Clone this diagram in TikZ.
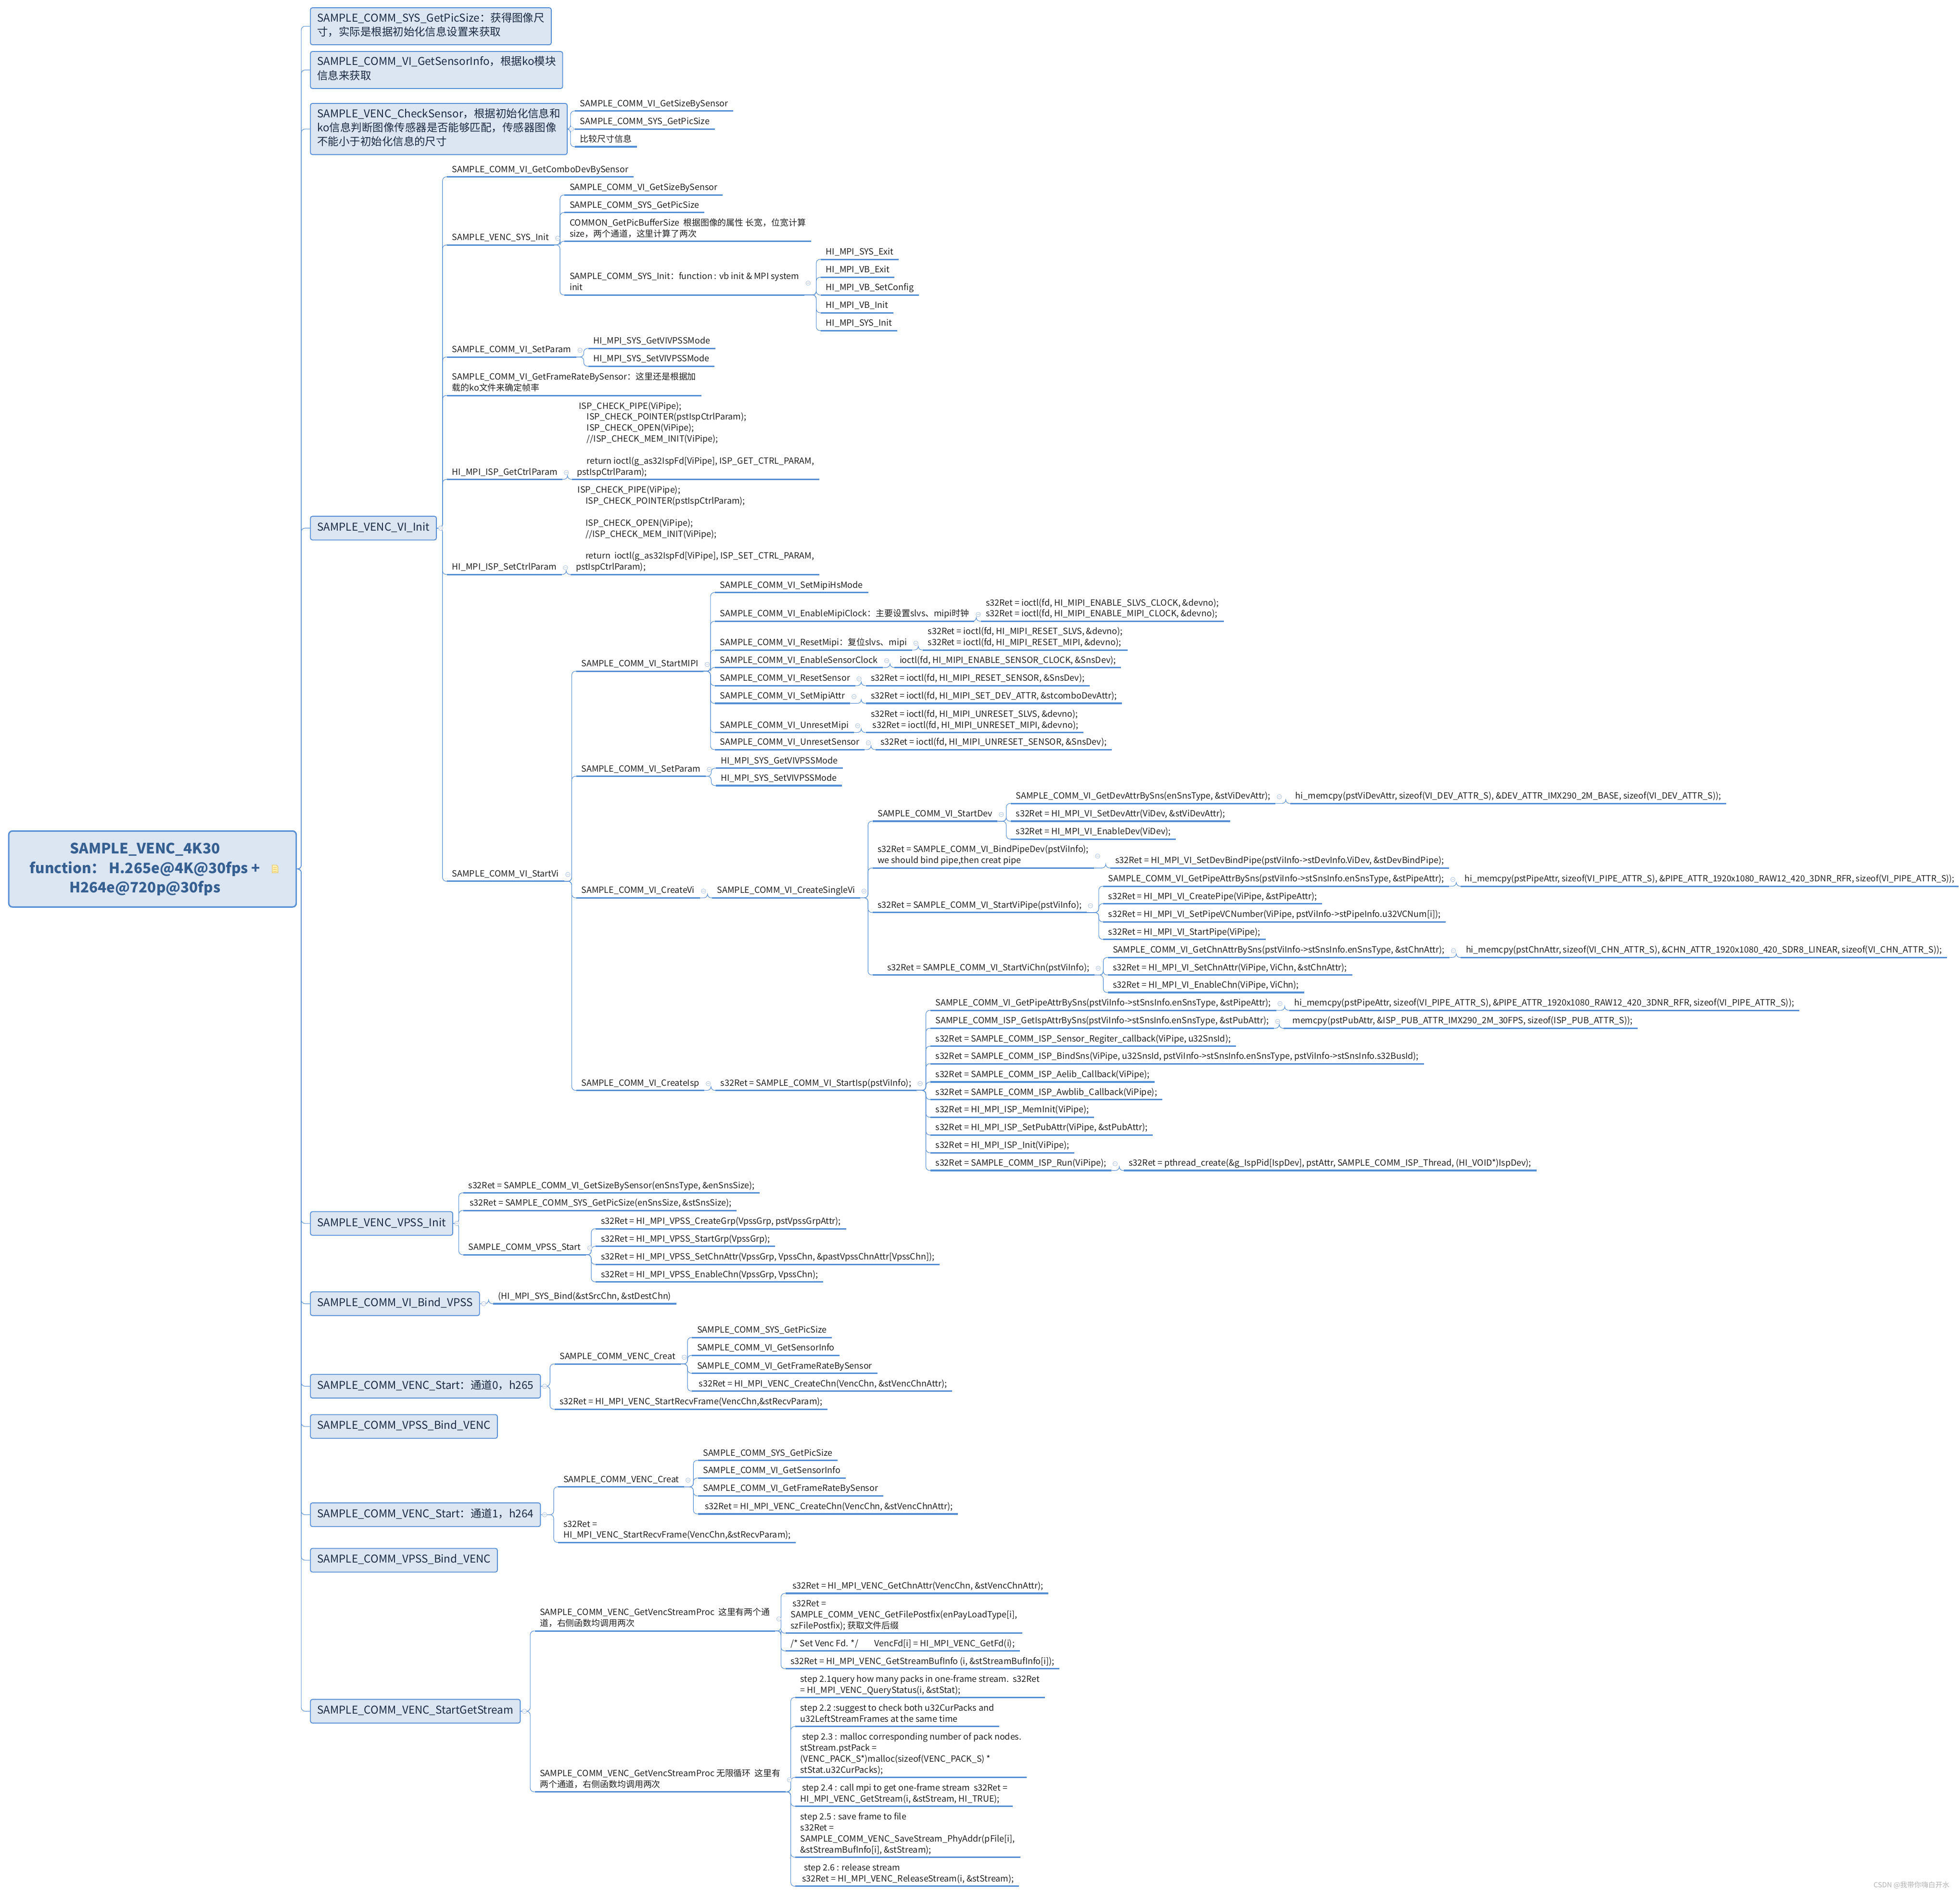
\documentclass[tikz,border=0pt]{standalone}
\usepackage{fontspec}
\setmainfont{Noto Sans CJK SC}
\definecolor{mapblue}{HTML}{558ED5}
\definecolor{boxfill}{HTML}{DCE6F2}
\definecolor{boxtext}{HTML}{1B2A41}
\definecolor{roottext}{HTML}{365F91}
\definecolor{foldc}{HTML}{AFC4E6}
\definecolor{notefill}{HTML}{FFF0B0}
\definecolor{noteline}{HTML}{E6BE5A}
\newcommand\topicfont{\fontsize{9.8}{12.5}\selectfont}
\newcommand\boxfont{\fontsize{12.3}{16}\selectfont}
\newcommand\rootfont{\fontsize{16.3}{22}\selectfont\bfseries}
\tikzset{
    uline/.style={draw=mapblue, line width=1.7pt},
    topic/.style={anchor=south west, align=left, inner xsep=2mm, inner ysep=1.2pt,
        font=\topicfont, text=black!88,
        execute at begin node=\strut, execute at end node=\strut,
        append after command={(\tikzlastnode.south west) edge[uline] (\tikzlastnode.south east)}},
    lvlone/.style={draw=mapblue, line width=1pt, fill=boxfill, rounded corners=0.8mm,
        anchor=west, align=left, inner xsep=2.7mm, inner ysep=5.5pt,
        font=\boxfont, text=boxtext,
        execute at begin node=\strut, execute at end node=\strut},
    rootbox/.style={draw=mapblue, line width=1.6pt, fill=boxfill, rounded corners=1.5mm,
        minimum width=115mm, minimum height=30.4mm},
    rootlabel/.style={align=center, font=\rootfont, text=roottext},
    conn/.style={draw=mapblue, line width=0.6pt, rounded corners=1.5mm},
    fold/.style={draw=foldc, fill=white, line width=0.5pt}
}
\begin{document}
\begin{tikzpicture}[x=0.5mm, y=-0.5mm]
    \useasboundingbox (0,0) rectangle (1568,1516);
    \fill[white] (0,0) rectangle (1568,1516);

    % ---------------- root ----------------
    \node[rootbox] (root) at (122,695.2) {};
    \node[rootlabel] (rootlabel) at (116,695.4) {SAMPLE\_VENC\_4K30\\function： H.265e@4K@30fps +\\H264e@720p@30fps};
    \draw[fill=notefill, draw=noteline, line width=0.5pt] (217.8,692) -- (221,692) -- (222.4,693.4) -- (222.4,698.2) -- (217.8,698.2) -- cycle;
    \foreach \y in {694,695.6,697.2}
        \draw[noteline, line width=0.4pt] (218.8,\y) -- (221.4,\y);

    % ---------------- first level ----------------
    \node[lvlone] (b1) at (248,21) {SAMPLE\_COMM\_SYS\_GetPicSize：获得图像尺\\寸，实际是根据初始化信息设置来获取};
    \node[lvlone] (b2) at (248,56) {SAMPLE\_COMM\_VI\_GetSensorInfo，根据ko模块\\信息来获取};
    \node[lvlone] (b3) at (248,103.2) {SAMPLE\_VENC\_CheckSensor，根据初始化信息和\\ko信息判断图像传感器是否能够匹配，传感器图像\\不能小于初始化信息的尺寸};
    \node[lvlone] (b4) at (248,422.5) {SAMPLE\_VENC\_VI\_Init};
    \node[lvlone] (b5) at (248,978.8) {SAMPLE\_VENC\_VPSS\_Init};
    \node[lvlone] (b6) at (248,1043) {SAMPLE\_COMM\_VI\_Bind\_VPSS};
    \node[lvlone] (b7) at (248,1109) {SAMPLE\_COMM\_VENC\_Start：通道0，h265};
    \node[lvlone] (b8) at (248,1141.2) {SAMPLE\_COMM\_VPSS\_Bind\_VENC};
    \node[lvlone] (b9) at (248,1211.8) {SAMPLE\_COMM\_VENC\_Start：通道1，h264};
    \node[lvlone] (b10) at (248,1248.2) {SAMPLE\_COMM\_VPSS\_Bind\_VENC};
    \node[lvlone] (b11) at (248,1369) {SAMPLE\_COMM\_VENC\_StartGetStream};

    % ---------------- CheckSensor ----------------
    \node[topic] (chk1) at (460,88.8) {SAMPLE\_COMM\_VI\_GetSizeBySensor};
    \node[topic] (chk2) at (460,103.3) {SAMPLE\_COMM\_SYS\_GetPicSize};
    \node[topic] (chk3) at (460,117.4) {比较尺寸信息};

    % ---------------- VI_Init ----------------
    \node[topic] (combo) at (357.6,141.5) {SAMPLE\_COMM\_VI\_GetComboDevBySensor};
    \node[topic] (sysinit) at (357.6,196) {SAMPLE\_VENC\_SYS\_Init};
    \node[topic] (gsz) at (451.6,156) {SAMPLE\_COMM\_VI\_GetSizeBySensor};
    \node[topic] (gpic) at (451.6,170) {SAMPLE\_COMM\_SYS\_GetPicSize};
    \node[topic] (bufsz) at (451.6,193) {COMMON\_GetPicBufferSize\ \ 根据图像的属性 长宽，位宽计算\\size，两个通道，这里计算了两次};
    \node[topic] (sysi) at (451.6,236) {SAMPLE\_COMM\_SYS\_Init：function : vb init \& MPI system\\init};
    \node[topic] (mpi1) at (656.6,207.5) {HI\_MPI\_SYS\_Exit};
    \node[topic] (mpi2) at (656.6,221.8) {HI\_MPI\_VB\_Exit};
    \node[topic] (mpi3) at (656.6,236) {HI\_MPI\_VB\_SetConfig};
    \node[topic] (mpi4) at (656.6,250.2) {HI\_MPI\_VB\_Init};
    \node[topic] (mpi5) at (656.6,264.5) {HI\_MPI\_SYS\_Init};
    \node[topic] (setp) at (357.6,285.6) {SAMPLE\_COMM\_VI\_SetParam};
    \node[topic] (gmode) at (470.6,278.7) {HI\_MPI\_SYS\_GetVIVPSSMode};
    \node[topic] (smode) at (470.6,293) {HI\_MPI\_SYS\_SetVIVPSSMode};
    \node[topic] (frate) at (357.6,316.4) {SAMPLE\_COMM\_VI\_GetFrameRateBySensor：这里还是根据加\\载的ko文件来确定帧率};
    \node[topic] (getc) at (357.6,383.5) {HI\_MPI\_ISP\_GetCtrlParam};
    \node[topic] (getcb) at (457.6,383.5) {\hspace*{2pt}ISP\_CHECK\_PIPE(ViPipe);\\
        \hspace*{11pt}ISP\_CHECK\_POINTER(pstIspCtrlParam);\\
        \hspace*{11pt}ISP\_CHECK\_OPEN(ViPipe);\\
        \hspace*{11pt}//ISP\_CHECK\_MEM\_INIT(ViPipe);\\[12.5pt]
        \hspace*{11pt}return ioctl(g\_as32IspFd[ViPipe], ISP\_GET\_CTRL\_PARAM,\\
        pstIspCtrlParam);};
    \node[topic] (setc) at (357.6,459.6) {HI\_MPI\_ISP\_SetCtrlParam};
    \node[topic] (setcb) at (456.6,459.6) {\hspace*{2pt}ISP\_CHECK\_PIPE(ViPipe);\\
        \hspace*{11pt}ISP\_CHECK\_POINTER(pstIspCtrlParam);\\[12.5pt]
        \hspace*{11pt}ISP\_CHECK\_OPEN(ViPipe);\\
        \hspace*{11pt}//ISP\_CHECK\_MEM\_INIT(ViPipe);\\[12.5pt]
        \hspace*{11pt}return\ \ ioctl(g\_as32IspFd[ViPipe], ISP\_SET\_CTRL\_PARAM,\\
        pstIspCtrlParam);};
    \node[topic] (startvi) at (357.6,705) {SAMPLE\_COMM\_VI\_StartVi};

    % ---------------- StartMIPI ----------------
    \node[topic] (mipi) at (461,537) {SAMPLE\_COMM\_VI\_StartMIPI};
    \node[topic] (hs) at (572,474) {SAMPLE\_COMM\_VI\_SetMipiHsMode};
    \node[topic] (emc) at (572,497) {SAMPLE\_COMM\_VI\_EnableMipiClock：主要设置slvs、mipi时钟};
    \node[topic] (emcc) at (784.6,497) {s32Ret = ioctl(fd, HI\_MIPI\_ENABLE\_SLVS\_CLOCK, \&devno);\\s32Ret = ioctl(fd, HI\_MIPI\_ENABLE\_MIPI\_CLOCK, \&devno);};
    \node[topic] (rmp) at (572,520) {SAMPLE\_COMM\_VI\_ResetMipi：复位slvs、mipi};
    \node[topic] (rmpc) at (738.2,520) {s32Ret = ioctl(fd, HI\_MIPI\_RESET\_SLVS, \&devno);\\s32Ret = ioctl(fd, HI\_MIPI\_RESET\_MIPI, \&devno);};
    \node[topic] (esc) at (572,534) {SAMPLE\_COMM\_VI\_EnableSensorClock};
    \node[topic] (escc) at (715.6,534) {ioctl(fd, HI\_MIPI\_ENABLE\_SENSOR\_CLOCK, \&SnsDev);};
    \node[topic] (rss) at (572,548.5) {SAMPLE\_COMM\_VI\_ResetSensor};
    \node[topic] (rssc) at (692.6,548.5) {s32Ret = ioctl(fd, HI\_MIPI\_RESET\_SENSOR, \&SnsDev);};
    \node[topic] (sma) at (572,562.7) {SAMPLE\_COMM\_VI\_SetMipiAttr};
    \node[topic] (smac) at (692.6,562.7) {s32Ret = ioctl(fd, HI\_MIPI\_SET\_DEV\_ATTR, \&stcomboDevAttr);};
    \node[topic] (ump) at (572,586) {SAMPLE\_COMM\_VI\_UnresetMipi};
    \node[topic] (umpc) at (692.6,586) {s32Ret = ioctl(fd, HI\_MIPI\_UNRESET\_SLVS, \&devno);\\\hspace*{2pt}s32Ret = ioctl(fd, HI\_MIPI\_UNRESET\_MIPI, \&devno);};
    \node[topic] (uss) at (572,599.7) {SAMPLE\_COMM\_VI\_UnresetSensor};
    \node[topic] (ussc) at (700.4,599.7) {s32Ret = ioctl(fd, HI\_MIPI\_UNRESET\_SENSOR, \&SnsDev);};

    % ---------------- SetParam / CreateVi ----------------
    \node[topic] (vsp) at (461,621) {SAMPLE\_COMM\_VI\_SetParam};
    \node[topic] (vgm) at (572.6,614.5) {HI\_MPI\_SYS\_GetVIVPSSMode};
    \node[topic] (vsm) at (572.6,628.5) {HI\_MPI\_SYS\_SetVIVPSSMode};
    \node[topic] (cvi) at (461,718.3) {SAMPLE\_COMM\_VI\_CreateVi};
    \node[topic] (csv) at (569.6,718.3) {SAMPLE\_COMM\_VI\_CreateSingleVi};
    \node[topic] (sdev) at (698,657) {SAMPLE\_COMM\_VI\_StartDev};
    \node[topic] (gda) at (808.6,642.8) {SAMPLE\_COMM\_VI\_GetDevAttrBySns(enSnsType, \&stViDevAttr);};
    \node[topic] (gdac) at (1032.2,642.8) {hi\_memcpy(pstViDevAttr, sizeof(VI\_DEV\_ATTR\_S), \&DEV\_ATTR\_IMX290\_2M\_BASE, sizeof(VI\_DEV\_ATTR\_S));};
    \node[topic] (sda) at (808.6,657) {s32Ret = HI\_MPI\_VI\_SetDevAttr(ViDev, \&stViDevAttr);};
    \node[topic] (eda) at (808.6,671.3) {s32Ret = HI\_MPI\_VI\_EnableDev(ViDev);};
    \node[topic] (bpd) at (698,694.4) {s32Ret = SAMPLE\_COMM\_VI\_BindPipeDev(pstViInfo);\\we should bind pipe,then creat pipe};
    \node[topic] (bpdc) at (888.2,694.4) {s32Ret = HI\_MPI\_VI\_SetDevBindPipe(pstViInfo->stDevInfo.ViDev, \&stDevBindPipe);};
    \node[topic] (svp) at (698,730) {s32Ret = SAMPLE\_COMM\_VI\_StartViPipe(pstViInfo);};
    \node[topic] (gpa) at (882.6,709) {SAMPLE\_COMM\_VI\_GetPipeAttrBySns(pstViInfo->stSnsInfo.enSnsType, \&stPipeAttr);};
    \node[topic, font=\fontsize{9.6}{12.5}\selectfont, inner xsep=1.6mm] (gpac) at (1168.6,709) {hi\_memcpy(pstPipeAttr, sizeof(VI\_PIPE\_ATTR\_S), \&PIPE\_ATTR\_1920x1080\_RAW12\_420\_3DNR\_RFR, sizeof(VI\_PIPE\_ATTR\_S));};
    \node[topic] (cpp) at (882.6,723) {s32Ret = HI\_MPI\_VI\_CreatePipe(ViPipe, \&stPipeAttr);};
    \node[topic] (vcn) at (882.6,737.5) {s32Ret = HI\_MPI\_VI\_SetPipeVCNumber(ViPipe, pstViInfo->stPipeInfo.u32VCNum[i]);};
    \node[topic] (spp) at (882.6,751.5) {s32Ret = HI\_MPI\_VI\_StartPipe(ViPipe);};
    \node[topic] (svc) at (698,780) {\hspace*{11pt}s32Ret = SAMPLE\_COMM\_VI\_StartViChn(pstViInfo);};
    \node[topic] (gca) at (886.2,766) {SAMPLE\_COMM\_VI\_GetChnAttrBySns(pstViInfo->stSnsInfo.enSnsType, \&stChnAttr);};
    \node[topic] (gcac) at (1168.6,766) {hi\_memcpy(pstChnAttr, sizeof(VI\_CHN\_ATTR\_S), \&CHN\_ATTR\_1920x1080\_420\_SDR8\_LINEAR, sizeof(VI\_CHN\_ATTR\_S));};
    \node[topic] (sca) at (886.2,780) {s32Ret = HI\_MPI\_VI\_SetChnAttr(ViPipe, ViChn, \&stChnAttr);};
    \node[topic] (eca) at (886.2,794) {s32Ret = HI\_MPI\_VI\_EnableChn(ViPipe, ViChn);};

    % ---------------- CreateIsp ----------------
    \node[topic] (cisp) at (461,872.3) {SAMPLE\_COMM\_VI\_CreateIsp};
    \node[topic] (sisp) at (572.4,872.3) {s32Ret = SAMPLE\_COMM\_VI\_StartIsp(pstViInfo);};
    \node[topic] (i1) at (744.3,808.3) {SAMPLE\_COMM\_VI\_GetPipeAttrBySns(pstViInfo->stSnsInfo.enSnsType, \&stPipeAttr);};
    \node[topic] (i1c) at (1031.4,808.3) {hi\_memcpy(pstPipeAttr, sizeof(VI\_PIPE\_ATTR\_S), \&PIPE\_ATTR\_1920x1080\_RAW12\_420\_3DNR\_RFR, sizeof(VI\_PIPE\_ATTR\_S));};
    \node[topic] (i2) at (744.3,822.6) {SAMPLE\_COMM\_ISP\_GetIspAttrBySns(pstViInfo->stSnsInfo.enSnsType, \&stPubAttr);};
    \node[topic] (i2c) at (1027,822.6) {\hspace*{4pt}memcpy(pstPubAttr, \&ISP\_PUB\_ATTR\_IMX290\_2M\_30FPS, sizeof(ISP\_PUB\_ATTR\_S));};
    \node[topic] (i3) at (744.3,837) {s32Ret = SAMPLE\_COMM\_ISP\_Sensor\_Regiter\_callback(ViPipe, u32SnsId);};
    \node[topic] (i4) at (744.3,851) {s32Ret = SAMPLE\_COMM\_ISP\_BindSns(ViPipe, u32SnsId, pstViInfo->stSnsInfo.enSnsType, pstViInfo->stSnsInfo.s32BusId);};
    \node[topic] (i5) at (744.3,865.6) {s32Ret = SAMPLE\_COMM\_ISP\_Aelib\_Callback(ViPipe);};
    \node[topic] (i6) at (744.3,879.6) {s32Ret = SAMPLE\_COMM\_ISP\_Awblib\_Callback(ViPipe);};
    \node[topic] (i7) at (744.3,893.8) {s32Ret = HI\_MPI\_ISP\_MemInit(ViPipe);};
    \node[topic] (i8) at (744.3,908) {s32Ret = HI\_MPI\_ISP\_SetPubAttr(ViPipe, \&stPubAttr);};
    \node[topic] (i9) at (744.3,922.2) {s32Ret = HI\_MPI\_ISP\_Init(ViPipe);};
    \node[topic] (i10) at (744.3,936.4) {s32Ret = SAMPLE\_COMM\_ISP\_Run(ViPipe);};
    \node[topic] (i10c) at (899,936.4) {s32Ret = pthread\_create(\&g\_IspPid[IspDev], pstAttr, SAMPLE\_COMM\_ISP\_Thread, (HI\_VOID*)IspDev);};

    % ---------------- VPSS ----------------
    \node[topic] (vp1) at (370.6,954.3) {s32Ret = SAMPLE\_COMM\_VI\_GetSizeBySensor(enSnsType, \&enSnsSize);};
    \node[topic] (vp2) at (370.6,968.4) {\hspace*{1.5pt}s32Ret = SAMPLE\_COMM\_SYS\_GetPicSize(enSnsSize, \&stSnsSize);};
    \node[topic] (vp3) at (370.6,1003.8) {SAMPLE\_COMM\_VPSS\_Start};
    \node[topic] (vs1) at (476.6,983) {s32Ret = HI\_MPI\_VPSS\_CreateGrp(VpssGrp, pstVpssGrpAttr);};
    \node[topic] (vs2) at (476.6,997) {s32Ret = HI\_MPI\_VPSS\_StartGrp(VpssGrp);};
    \node[topic] (vs3) at (476.6,1011.5) {s32Ret = HI\_MPI\_VPSS\_SetChnAttr(VpssGrp, VpssChn, \&pastVpssChnAttr[VpssChn]);};
    \node[topic] (vs4) at (476.6,1025.5) {s32Ret = HI\_MPI\_VPSS\_EnableChn(VpssGrp, VpssChn);};
    \node[topic] (bv1) at (394.5,1043) {(HI\_MPI\_SYS\_Bind(\&stSrcChn, \&stDestChn)};

    % ---------------- VENC ----------------
    \node[topic] (vc0) at (443.6,1091.2) {SAMPLE\_COMM\_VENC\_Creat};
    \node[topic] (vc0a) at (553.6,1070) {SAMPLE\_COMM\_SYS\_GetPicSize};
    \node[topic] (vc0b) at (553.6,1084.3) {SAMPLE\_COMM\_VI\_GetSensorInfo};
    \node[topic] (vc0c) at (553.6,1098.6) {SAMPLE\_COMM\_VI\_GetFrameRateBySensor};
    \node[topic] (vc0d) at (553.6,1112.9) {\hspace*{2pt}s32Ret = HI\_MPI\_VENC\_CreateChn(VencChn, \&stVencChnAttr);};
    \node[topic] (rf0) at (443.6,1127.4) {s32Ret = HI\_MPI\_VENC\_StartRecvFrame(VencChn,\&stRecvParam);};
    \node[topic] (vc1) at (446.6,1189.5) {SAMPLE\_COMM\_VENC\_Creat};
    \node[topic] (vc1a) at (558.3,1168.3) {SAMPLE\_COMM\_SYS\_GetPicSize};
    \node[topic] (vc1b) at (558.3,1182.4) {SAMPLE\_COMM\_VI\_GetSensorInfo};
    \node[topic] (vc1c) at (558.3,1196.7) {SAMPLE\_COMM\_VI\_GetFrameRateBySensor};
    \node[topic] (vc1d) at (558.3,1211.2) {\hspace*{2pt}s32Ret = HI\_MPI\_VENC\_CreateChn(VencChn, \&stVencChnAttr);};
    \node[topic] (rf1) at (446.6,1234) {s32Ret =\\HI\_MPI\_VENC\_StartRecvFrame(VencChn,\&stRecvParam);};

    % ---------------- GetStream ----------------
    \node[topic] (gs1) at (427.8,1304.8) {SAMPLE\_COMM\_VENC\_GetVencStreamProc\ \ 这里有两个通\\道，右侧函数均调用两次};
    \node[topic] (gs1a) at (628.4,1274.7) {\hspace*{2pt}s32Ret = HI\_MPI\_VENC\_GetChnAttr(VencChn, \&stVencChnAttr);};
    \node[topic] (gs1b) at (628.4,1306.6) {\hspace*{2pt}s32Ret =\\SAMPLE\_COMM\_VENC\_GetFilePostfix(enPayLoadType[i],\\szFilePostfix); 获取文件后缀};
    \node[topic] (gs1c) at (628.4,1320.8) {/* Set Venc Fd. */\hspace{18pt}VencFd[i] = HI\_MPI\_VENC\_GetFd(i);};
    \node[topic] (gs1d) at (628.4,1335) {s32Ret = HI\_MPI\_VENC\_GetStreamBufInfo (i, \&stStreamBufInfo[i]);};
    \node[topic] (gs2) at (427.8,1433.5) {SAMPLE\_COMM\_VENC\_GetVencStreamProc 无限循环\ \ 这里有\\两个通道，右侧函数均调用两次};
    \node[topic] (st1) at (636.2,1358) {step 2.1query how many packs in one-frame stream.\ \ s32Ret\\= HI\_MPI\_VENC\_QueryStatus(i, \&stStat);};
    \node[topic] (st2) at (636.2,1381.2) {step 2.2 :suggest to check both u32CurPacks and\\u32LeftStreamFrames at the same time};
    \node[topic] (st3) at (636.2,1422) {\hspace*{2pt}step 2.3 : malloc corresponding number of pack nodes.\\stStream.pstPack =\\(VENC\_PACK\_S*)malloc(sizeof(VENC\_PACK\_S) *\\stStat.u32CurPacks);};
    \node[topic] (st4) at (636.2,1445) {\hspace*{2pt}step 2.4 : call mpi to get one-frame stream\ \ s32Ret =\\HI\_MPI\_VENC\_GetStream(i, \&stStream, HI\_TRUE);};
    \node[topic] (st5) at (636.2,1485.8) {step 2.5 : save frame to file\\s32Ret =\\SAMPLE\_COMM\_VENC\_SaveStream\_PhyAddr(pFile[i],\\\&stStreamBufInfo[i], \&stStream);};
    \node[topic] (st6) at (636.2,1509) {\hspace*{4pt}step 2.6 : release stream\\\hspace*{2pt}s32Ret = HI\_MPI\_VENC\_ReleaseStream(i, \&stStream);};

    \node[anchor=east, font=\fontsize{8}{10}\selectfont, text=black!30] (wmark) at (1562,1508) {CSDN @我带你嗨白开水};

    % ---------------- connectors ----------------
    \foreach \b in {b1,b2,b3,b4,b5,b6,b7,b8,b9,b10,b11}
        \draw[conn] (root.east) -| ([xshift=-3.5mm]\b.west) -- (\b.west);

    \foreach \p/\c in {b3/chk1,b3/chk2,b3/chk3,
            b4/combo,b4/sysinit,b4/setp,b4/frate,b4/getc,b4/setc,b4/startvi,
            b5/vp1,b5/vp2,b5/vp3,b6/bv1,b7/vc0,b7/rf0,b9/vc1,b9/rf1,b11/gs1,b11/gs2}
        \draw[conn] (\p.east) -| ([xshift=-1.8mm]\c.south west) -- (\c.south west);

    \foreach \p/\c in {sysinit/gsz,sysinit/gpic,sysinit/bufsz,sysinit/sysi,
            sysi/mpi1,sysi/mpi2,sysi/mpi3,sysi/mpi4,sysi/mpi5,
            setp/gmode,setp/smode,getc/getcb,setc/setcb,
            startvi/mipi,startvi/vsp,startvi/cvi,startvi/cisp,
            mipi/hs,mipi/emc,mipi/rmp,mipi/esc,mipi/rss,mipi/sma,mipi/ump,mipi/uss,
            emc/emcc,rmp/rmpc,esc/escc,rss/rssc,sma/smac,ump/umpc,uss/ussc,
            vsp/vgm,vsp/vsm,cvi/csv,
            csv/sdev,csv/bpd,csv/svp,csv/svc,
            sdev/gda,sdev/sda,sdev/eda,gda/gdac,bpd/bpdc,
            svp/gpa,svp/cpp,svp/vcn,svp/spp,gpa/gpac,
            svc/gca,svc/sca,svc/eca,gca/gcac,
            cisp/sisp,sisp/i1,sisp/i2,sisp/i3,sisp/i4,sisp/i5,sisp/i6,sisp/i7,sisp/i8,sisp/i9,sisp/i10,
            i1/i1c,i2/i2c,i10/i10c,
            vp3/vs1,vp3/vs2,vp3/vs3,vp3/vs4,
            vc0/vc0a,vc0/vc0b,vc0/vc0c,vc0/vc0d,
            vc1/vc1a,vc1/vc1b,vc1/vc1c,vc1/vc1d,
            gs1/gs1a,gs1/gs1b,gs1/gs1c,gs1/gs1d,
            gs2/st1,gs2/st2,gs2/st3,gs2/st4,gs2/st5,gs2/st6}
        \draw[conn] (\p.south east) -| ([xshift=-1.8mm]\c.south west) -- (\c.south west);

    % fold marks
    \foreach \p in {b3,b4,b5,b6,b7,b9,b11,sysinit,sysi,setp,getc,setc,startvi,mipi,emc,rmp,esc,rss,sma,ump,uss,
            vsp,cvi,csv,sdev,gda,bpd,svp,gpa,svc,gca,cisp,sisp,i1,i2,i10,vp3,vc0,vc1,gs1,gs2}
        \draw[fold] ([xshift=1.5mm]\p.east) circle (0.9mm) ++(-0.5mm,0) -- ++(1mm,0);
\end{tikzpicture}
\end{document}
